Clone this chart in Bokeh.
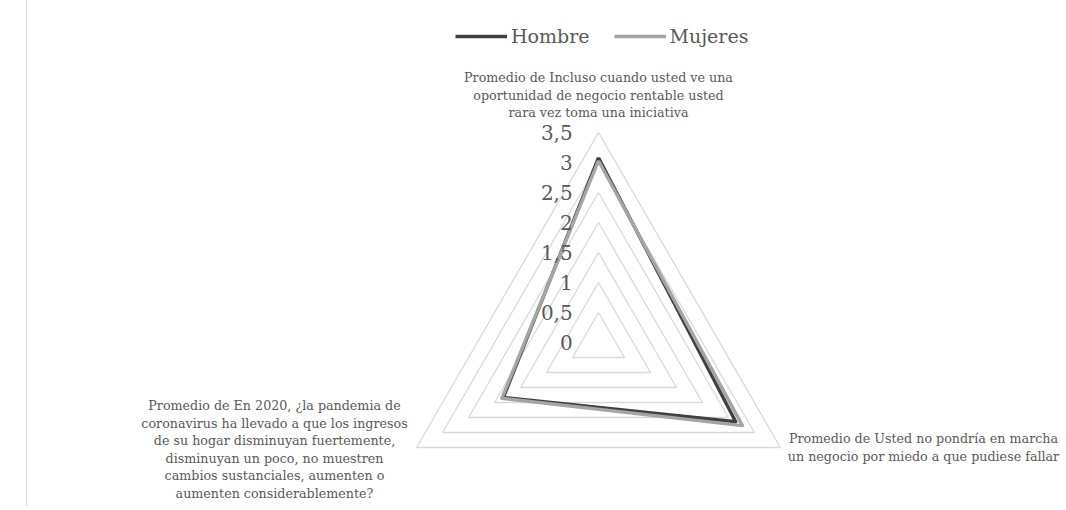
import numpy as np
from bokeh.plotting import figure
from bokeh.models import Range1d, Legend, LegendItem, Span
from bokeh.core.properties import value
from bokeh.embed import file_html
from bokeh.resources import INLINE

# ---- data ----
categories = [
    ["Promedio de Incluso cuando usted ve una",
     "oportunidad de negocio rentable usted",
     "rara vez toma una iniciativa"],
    ["Promedio de Usted no pondría en marcha",
     "un negocio por miedo a que pudiese fallar"],
    ["Promedio de En 2020, ¿la pandemia de",
     "coronavirus ha llevado a que los ingresos",
     "de su hogar disminuyan fuertemente,",
     "disminuyan un poco, no muestren",
     "cambios sustanciales, aumenten o",
     "aumenten considerablemente?"],
]
series_names = ["Hombre", "Mujeres"]
hombre = [3.08, 2.64, 1.83]
mujeres = [3.03, 2.77, 1.86]
ticks = [0, 0.5, 1, 1.5, 2, 2.5, 3, 3.5]
tick_labels = ["0", "0,5", "1", "1,5", "2", "2,5", "3", "3,5"]

# ---- style ----
FONT = "DejaVu Serif"
TXT = "#595959"
GRID = "#D9D9D9"
COLORS = ["#404040", "#A5A5A5"]

W, H = 1064, 506
PX = 60.0  # pixels per unit
cx, cy = 598, 342  # centre in frame px (from left / top)
p = figure(width=W, height=H, output_backend="svg", toolbar_location=None,
           min_border=0, outline_line_color=None,
           x_range=Range1d(-cx / PX, (W - cx) / PX),
           y_range=Range1d(-(H - cy) / PX, cy / PX))
p.axis.visible = False
p.grid.visible = False
p.background_fill_color = "white"

n = len(hombre)
angles = np.pi / 2 - 2 * np.pi * np.arange(n) / n

def poly(vals):
    v = np.asarray(vals, dtype=float)
    xs = v * np.cos(angles)
    ys = v * np.sin(angles)
    return list(np.append(xs, xs[0])), list(np.append(ys, ys[0]))

# left border line of the original image
p.add_layout(Span(location=(26 - cx) / PX, dimension="height",
                  line_color="#DDDDDD", line_width=1.2))

# grid triangles
for t in ticks[1:]:
    gx, gy = poly([t] * n)
    p.line(gx, gy, line_color=GRID, line_width=1.3)

# series
renderers = []
for vals, col in zip([hombre, mujeres], COLORS):
    sx, sy = poly(vals)
    r = p.line(sx, sy, line_color=col, line_width=3.4, line_join="round")
    renderers.append(r)

# tick labels
p.text(x=[-0.43] * len(ticks), y=ticks, text=tick_labels,
       text_font=value(FONT), text_font_size="20px", text_color=TXT,
       text_align="right", text_baseline="middle")

# category labels
LS = 17.6 / PX
anchors = [  # (x, y of first line) in units
    (0.0, (342 - 77) / PX),
    ((923 - 598) / PX, (342 - 438) / PX),
    ((274 - 598) / PX, (342 - 405) / PX),
]
for lines, (ax, ay) in zip(categories, anchors):
    ys = [ay - i * LS for i in range(len(lines))]
    p.text(x=[ax] * len(lines), y=ys, text=lines,
           text_font=value(FONT), text_font_size="12.7px", text_color=TXT,
           text_align="center", text_baseline="middle")

legend = Legend(items=[LegendItem(label=nm, renderers=[r])
                       for nm, r in zip(series_names, renderers)],
                orientation="horizontal", location=(455, H - 47),
                label_text_font=FONT, label_text_font_size="19px",
                label_text_color=TXT, glyph_width=52, glyph_height=20,
                label_height=20, label_standoff=4, spacing=24,
                padding=0, margin=0, border_line_color=None,
                background_fill_alpha=0)
p.add_layout(legend, "center")

open("out.html", "w").write(file_html(p, INLINE))
